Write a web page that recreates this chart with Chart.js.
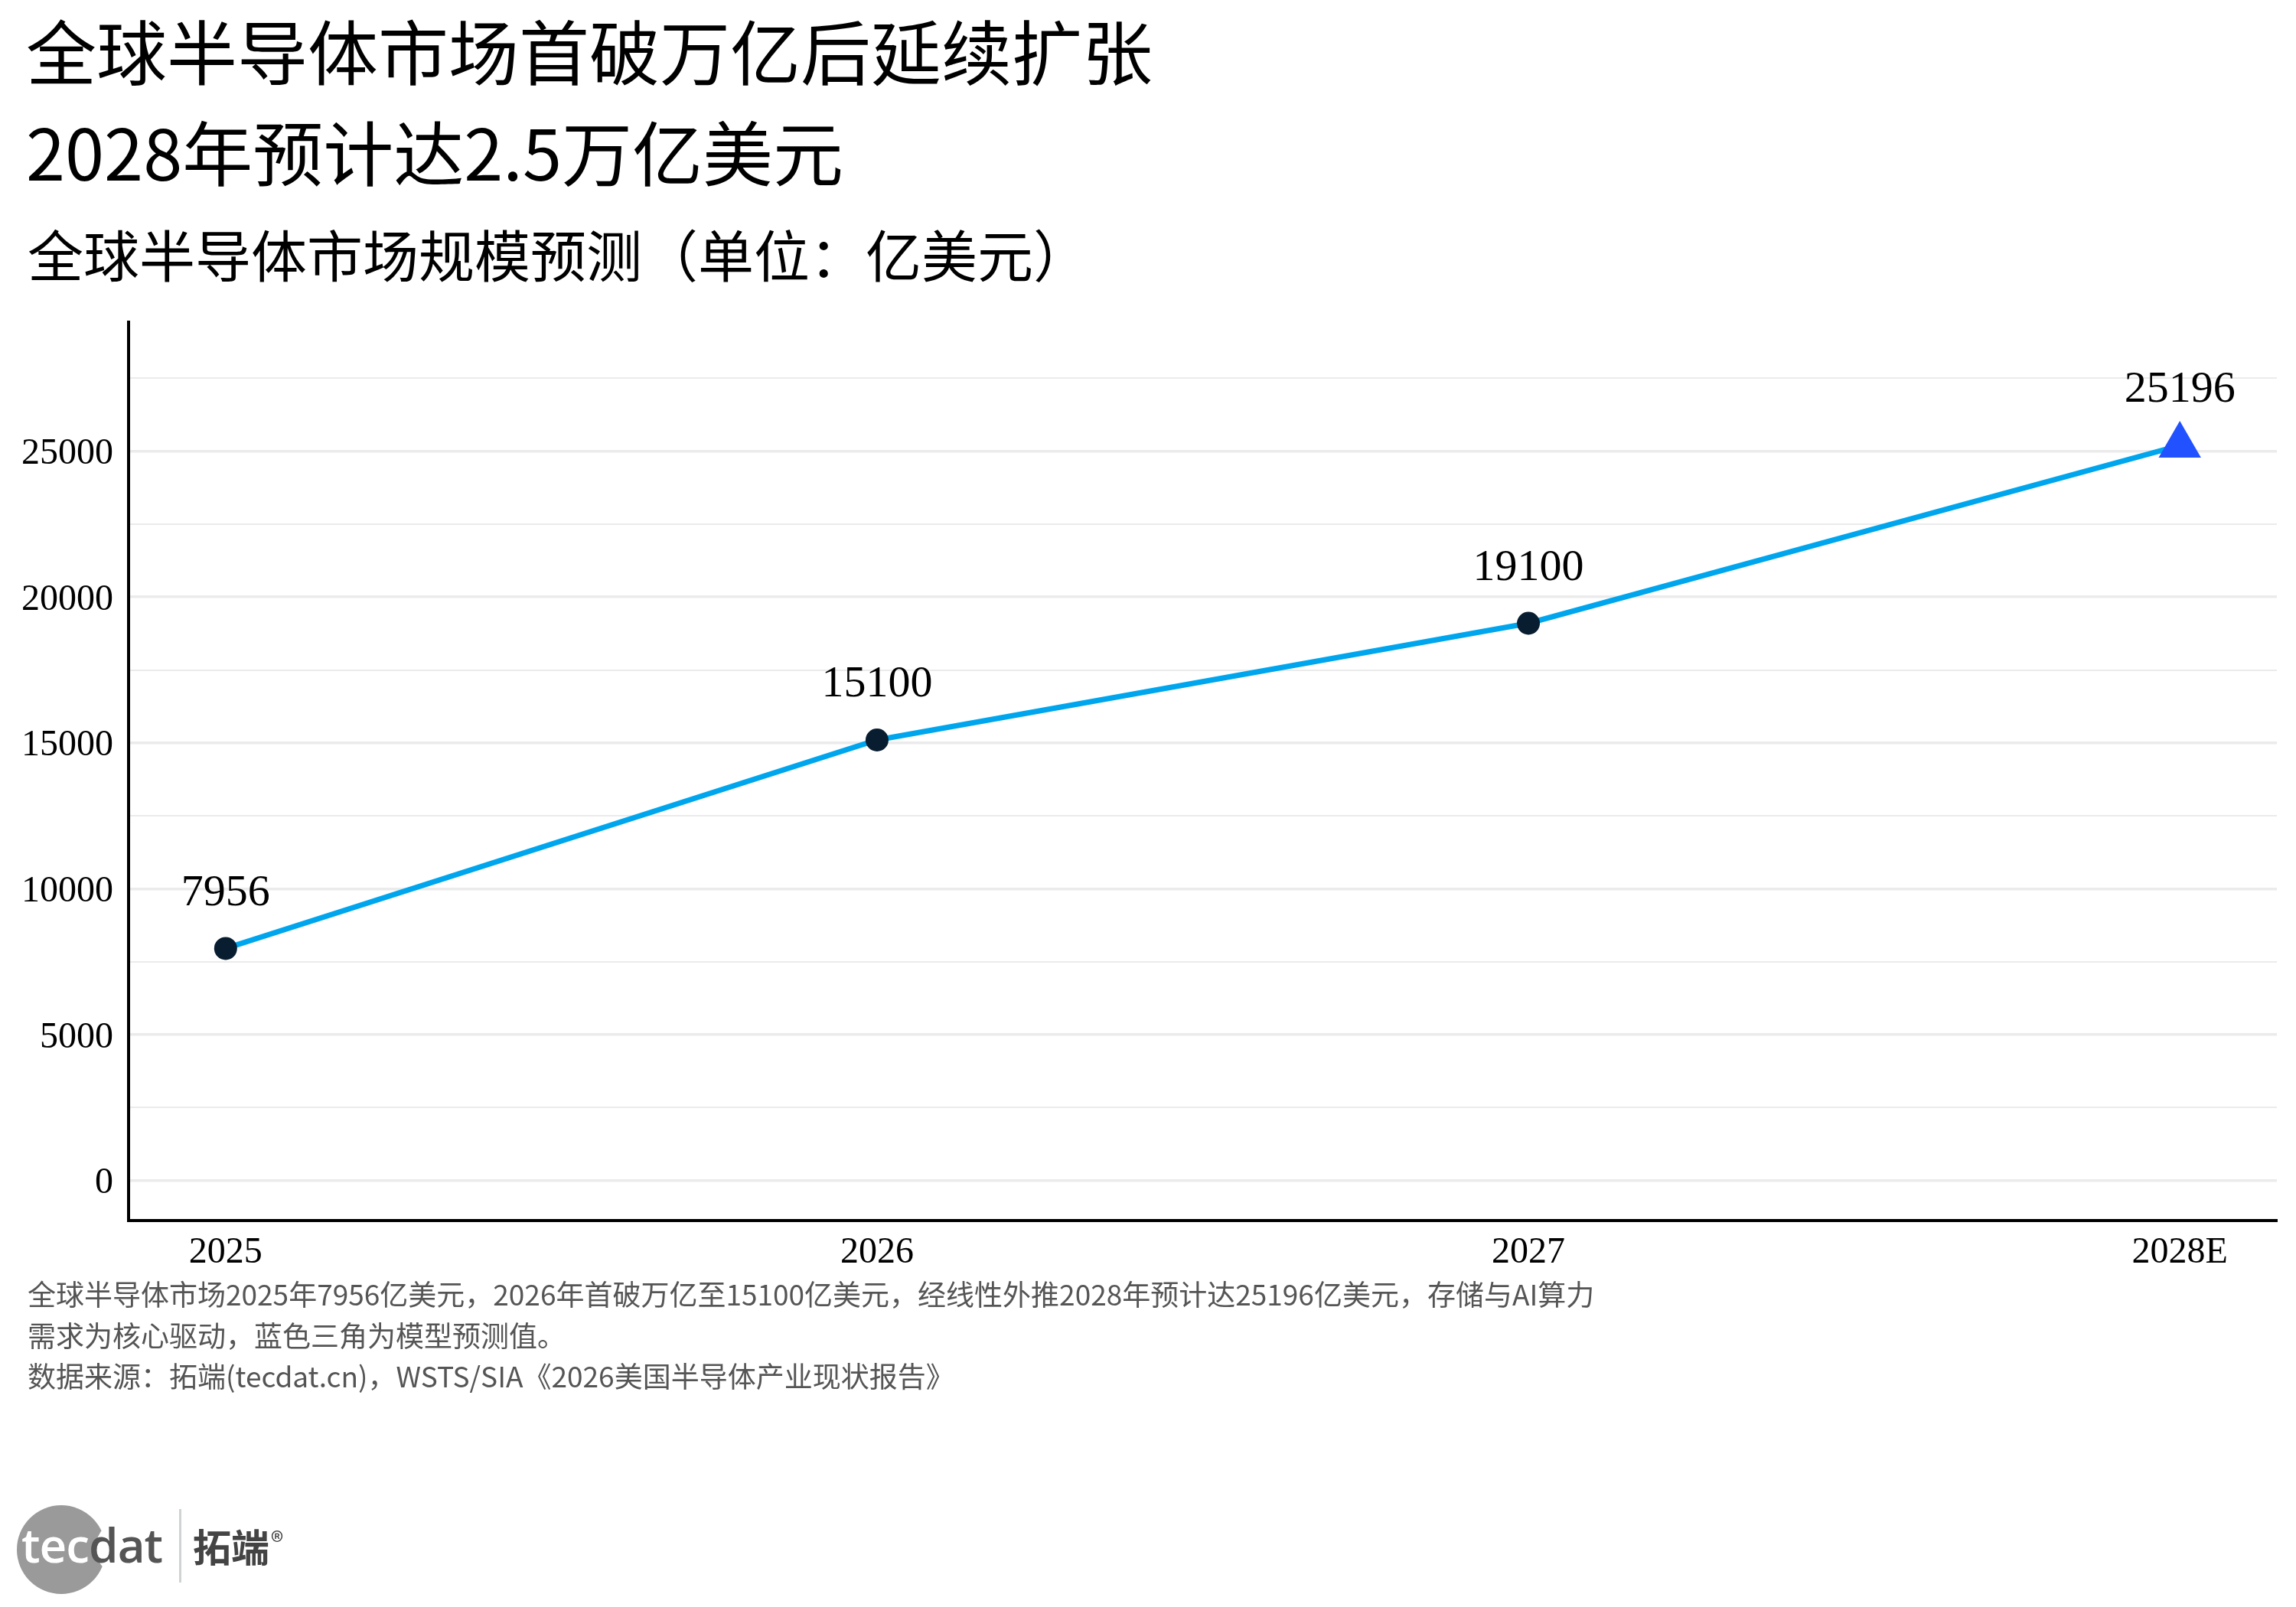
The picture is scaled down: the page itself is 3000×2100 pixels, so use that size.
<!DOCTYPE html>
<html>
<head>
<meta charset="utf-8">
<script src="https://cdn.jsdelivr.net/npm/chart.js@4.4.1/dist/chart.umd.min.js"></script>
<style>
  html, body { margin: 0; padding: 0; background: #ffffff; }
  #page { position: relative; width: 3000px; height: 2100px; overflow: hidden; background: #fff; }
  #chart { position: absolute; left: 0; top: 0; width: 3000px; height: 2100px; }
  .t { position: absolute; white-space: nowrap; font-family: "Noto Sans CJK SC", "Noto Sans", sans-serif; color: #000; }
  #title1 { left: 34px; top: 18px; font-size: 92px; line-height: 92px; }
  #title2 { left: 34px; top: 150px; font-size: 92px; line-height: 92px; }
  #subtitle { left: 36px; top: 294px; font-size: 73px; line-height: 73px; }
  #caption { left: 36px; top: 1664px; font-size: 37px; line-height: 53.5px; color: #555; }
  #logoCircle { position: absolute; left: 22px; top: 1967px; width: 116px; height: 116px; border-radius: 50%; background: #9a9a9a; }
  #logoBite { position: absolute; left: 125px; top: 1985px; width: 76px; height: 76px; border-radius: 50%; background: #fff; }
  #logoText { position: absolute; left: 28px; top: 1987px; font-family: "Open Sans", sans-serif; font-weight: 600; font-size: 62px; line-height: 62px; white-space: nowrap; letter-spacing: -1px; }
  #logoText .w { color: #fff; }
  #logoText .g { color: #555; }
  #logoSep { position: absolute; left: 234px; top: 1972px; width: 3px; height: 96px; background: #cfd3d3; }
  #logoCn { position: absolute; left: 252px; top: 1994px; font-family: "Noto Sans CJK SC", sans-serif; font-weight: 700; font-size: 50px; line-height: 50px; color: #444; white-space: nowrap; }
  #logoCn sup { font-size: 34px; font-weight: 400; vertical-align: top; position: relative; top: -6px; margin-left: 2px; }
</style>
</head>
<body>
<div id="page">
  <canvas id="chart" width="3000" height="2100"></canvas>
  <div class="t" id="title1">全球半导体市场首破万亿后延续扩张</div>
  <div class="t" id="title2">2028年预计达2.5万亿美元</div>
  <div class="t" id="subtitle">全球半导体市场规模预测（单位：亿美元）</div>
  <div class="t" id="caption">全球半导体市场2025年7956亿美元，2026年首破万亿至15100亿美元，经线性外推2028年预计达25196亿美元，存储与AI算力<br>需求为核心驱动，蓝色三角为模型预测值。<br>数据来源：拓端(tecdat.cn)，WSTS/SIA《2026美国半导体产业现状报告》</div>
  <div id="logoCircle"></div>
  <div id="logoBite"></div>
  <div id="logoText"><span class="w">tec</span><span class="g">dat</span></div>
  <div id="logoSep"></div>
  <div id="logoCn">拓端<sup>®</sup></div>
</div>
<script>
// ---- data ----
const categories = ["2025", "2026", "2027", "2028E"];
const marketValues = [7956, 15100, 19100, 25196];
const yGridValues = [0, 2500, 5000, 7500, 10000, 12500, 15000, 17500, 20000, 22500, 25000, 27500];
const yLabelStep = 5000;

const points = marketValues.map((v, i) => ({ x: i, y: v }));
const lastIdx = marketValues.length - 1;

const valueLabels = {
  id: 'valueLabels',
  afterDatasetsDraw(chart) {
    const ctx = chart.ctx;
    const meta = chart.getDatasetMeta(0);
    ctx.save();
    ctx.font = '58px "Liberation Serif", "DejaVu Serif", serif';
    ctx.fillStyle = '#000';
    ctx.textAlign = 'center';
    ctx.textBaseline = 'middle';
    meta.data.forEach((el, i) => {
      ctx.fillText(String(marketValues[i]), el.x, el.y - 72);
    });
    ctx.restore();
  }
};

new Chart(document.getElementById('chart'), {
  type: 'line',
  data: {
    datasets: [{
      data: points,
      borderColor: '#00a6ed',
      borderWidth: 7,
      fill: false,
      tension: 0,
      pointStyle: points.map((p, i) => i === lastIdx ? 'triangle' : 'circle'),
      pointRadius: points.map((p, i) => i === lastIdx ? 32 : 15),
      pointHoverRadius: points.map((p, i) => i === lastIdx ? 32 : 15),
      pointBackgroundColor: points.map((p, i) => i === lastIdx ? '#2252ff' : '#081d30'),
      pointBorderWidth: 0,
      clip: false
    }]
  },
  options: {
    responsive: false,
    devicePixelRatio: 1,
    animation: false,
    events: [],
    layout: { autoPadding: false, padding: { left: 0, top: 421, right: 25, bottom: 385 } },
    plugins: { legend: { display: false }, tooltip: { enabled: false }, title: { display: false } },
    scales: {
      x: {
        type: 'linear',
        min: -0.149,
        max: 3.149,
        afterBuildTicks(scale) { scale.ticks = categories.map((c, i) => ({ value: i })); },
        afterFit(scale) { scale.height = 120; scale.paddingLeft = 0; scale.paddingRight = 0; },
        grid: { display: false },
        border: { display: true, color: '#000', width: 4 },
        ticks: {
          padding: 6,
          color: '#000',
          font: { family: '"Liberation Serif", "DejaVu Serif", serif', size: 48 },
          maxRotation: 0,
          autoSkip: false,
          callback: (v) => categories[v]
        }
      },
      y: {
        type: 'linear',
        min: -1370,
        max: 29420,
        afterBuildTicks(scale) { scale.ticks = yGridValues.map(v => ({ value: v })); },
        afterFit(scale) { scale.width = 168; },
        grid: {
          display: true,
          drawTicks: false,
          color: '#ebebeb',
          lineWidth: (ctx) => (ctx.tick && ctx.tick.value % yLabelStep === 0) ? 3.5 : 2
        },
        border: { display: true, color: '#000', width: 4 },
        ticks: {
          padding: 20,
          labelOffset: 4,
          color: '#000',
          font: { family: '"Liberation Serif", "DejaVu Serif", serif', size: 48 },
          autoSkip: false,
          callback: (v) => (v % yLabelStep === 0 ? String(v) : '')
        }
      }
    }
  },
  plugins: [valueLabels]
});
</script>
</body>
</html>
